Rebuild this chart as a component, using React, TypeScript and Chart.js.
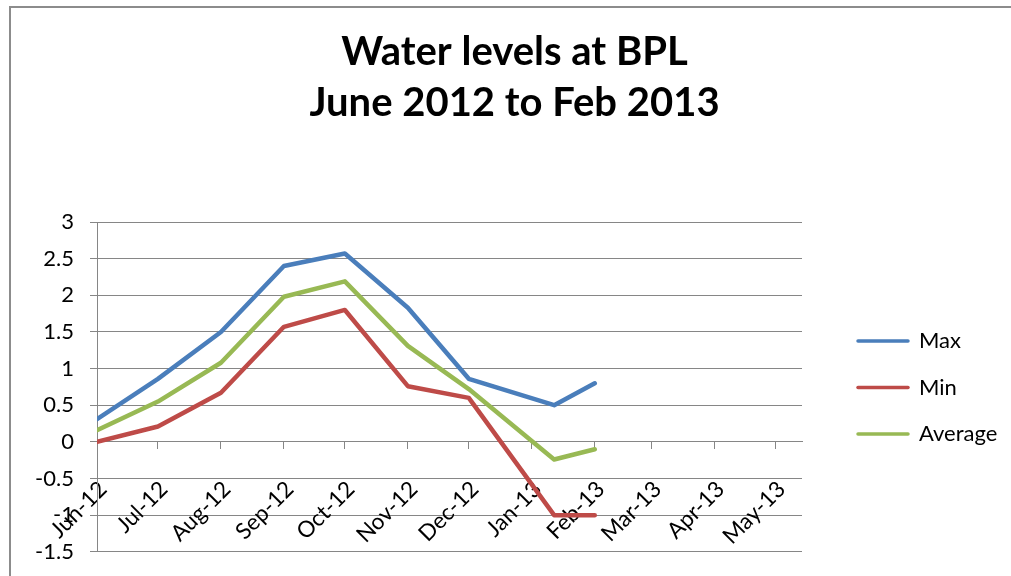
import React, { useEffect, useRef } from "react";
import { Chart, registerables } from "chart.js";

Chart.register(...registerables);

// ---- data ----
const pointDates = [
  "2012-06-01", "2012-07-01", "2012-08-01", "2012-09-01", "2012-10-01",
  "2012-11-01", "2012-12-01", "2013-01-12", "2013-02-01",
];
const maxValues = [0.31, 0.86, 1.5, 2.4, 2.57, 1.83, 0.86, 0.5, 0.8];
const minValues = [0.0, 0.21, 0.67, 1.57, 1.8, 0.76, 0.6, -1.0, -1.0];
const avgValues = [0.16, 0.55, 1.08, 1.98, 2.19, 1.31, 0.72, -0.24, -0.1];

const monthTickDates = [
  "2012-06-01", "2012-07-01", "2012-08-01", "2012-09-01", "2012-10-01", "2012-11-01",
  "2012-12-01", "2013-01-01", "2013-02-01", "2013-03-01", "2013-04-01", "2013-05-01",
];
const monthLabels = [
  "Jun-12", "Jul-12", "Aug-12", "Sep-12", "Oct-12", "Nov-12",
  "Dec-12", "Jan-13", "Feb-13", "Mar-13", "Apr-13", "May-13",
];
const axisStartDate = "2012-06-01";
const axisEndDate = "2013-05-14";

const yTickValues = [-1.5, -1, -0.5, 0, 0.5, 1, 1.5, 2, 2.5, 3];
const yTickLabels = ["-1.5", "-1", "-0.5", "0", "0.5", "1", "1.5", "2", "2.5", "3"];

const titleLines = ["Water levels at BPL", "June 2012 to Feb 2013"];
const seriesNames = ["Max", "Min", "Average"];
const seriesColors = ["#4A7EBB", "#BE4B48", "#98B954"];

const dayOf = (s: string) => (Date.parse(s) - Date.parse(axisStartDate)) / 86400000;

const FONT = "Lato, 'Open Sans', sans-serif";
const GRID = "#868686";
const CANVAS_W = 1029;
const CANVAS_H = 581;
const LEGEND_W = 227;

export default function App() {
  const ref = useRef<HTMLCanvasElement | null>(null);

  useEffect(() => {
    if (!ref.current) return;
    const series = [maxValues, minValues, avgValues];

    const borderPlugin = {
      id: "outerBorder",
      beforeDraw(chart: any) {
        const ctx = chart.ctx;
        ctx.save();
        ctx.fillStyle = "#ffffff";
        ctx.fillRect(0, 0, chart.width, chart.height);
        ctx.strokeStyle = "#8c8c8c";
        ctx.lineWidth = 2;
        ctx.strokeRect(10, 7, chart.width + 20, chart.height + 20);
        ctx.restore();
      },
    };

    const legendPlace = {
      id: "legendPlace",
      beforeLayout(chart: any) {
        const lg = chart.legend;
        if (lg && !lg.__patched) {
          const f = lg.fit;
          lg.fit = function (this: any) {
            f.call(this);
            this.width = LEGEND_W;
          };
          lg.__patched = true;
        }
      },
      afterLayout(chart: any) {
        const lg = chart.legend;
        if (lg) {
          lg.left += 31.5;
          lg.right += 31.5;
          lg.top += 97;
          lg.bottom += 97;
        }
      },
    };

    const chart = new Chart(ref.current, {
      type: "line",
      data: {
        datasets: series.map((vals, i) => ({
          label: seriesNames[i],
          data: vals.map((v, j) => ({ x: dayOf(pointDates[j]), y: v })),
          borderColor: seriesColors[i],
          backgroundColor: seriesColors[i],
          borderWidth: 4.5,
          borderCapStyle: "round" as const,
          borderJoinStyle: "round" as const,
          pointRadius: 0,
          pointHoverRadius: 0,
          tension: 0,
          fill: false,
        })),
      },
      options: {
        responsive: false,
        animation: false,
        layout: { padding: { left: 0, right: 0, top: 0, bottom: 0 } },
        scales: {
          x: {
            type: "linear",
            position: { y: 0 } as any,
            min: 0,
            max: dayOf(axisEndDate),
            afterBuildTicks: (scale: any) => {
              scale.ticks = monthTickDates.map((d) => ({ value: dayOf(d) }));
            },
            ticks: {
              autoSkip: false,
              minRotation: 45,
              maxRotation: 45,
              padding: 27,
              labelOffset: 6,
              color: "#000",
              font: { family: FONT, size: 22.5 },
              callback: (_v: any, i: number) => monthLabels[i],
            },
            grid: { drawOnChartArea: false, drawTicks: true, tickLength: 7, color: GRID, lineWidth: 1 },
            border: { display: true, color: GRID, width: 1 },
          },
          y: {
            min: -1.5,
            max: 3,
            afterBuildTicks: (scale: any) => {
              scale.ticks = yTickValues.map((v) => ({ value: v }));
            },
            afterFit: (scale: any) => {
              scale.width = 97;
            },
            ticks: {
              padding: 16,
              color: "#000",
              font: { family: FONT, size: 22 },
              callback: (_v: any, i: number) => yTickLabels[i],
            },
            grid: { color: GRID, tickLength: 7, lineWidth: 1 },
            border: { display: true, color: GRID, width: 1 },
          },
        },
        plugins: {
          title: {
            display: true,
            text: titleLines,
            color: "#000",
            font: { family: FONT, size: 40, weight: "bold", lineHeight: 51 / 40 },
            padding: { top: 26.5, bottom: 93.5 },
          },
          legend: {
            position: "right",
            labels: {
              usePointStyle: true,
              pointStyle: "line",
              pointStyleWidth: 50,
              padding: 24.5,
              color: "#000",
              font: { family: FONT, size: 22 },
              generateLabels: (c: any) =>
                (Chart.defaults.plugins.legend.labels.generateLabels as any)(c).map((l: any) => ({
                  ...l,
                  lineWidth: 3.5,
                  lineCap: "round",
                })),
            },
          },
          tooltip: { enabled: false },
        },
      },
      plugins: [borderPlugin, legendPlace],
    });
    return () => chart.destroy();
  }, []);

  return (
    <div style={{ position: "fixed", left: 0, top: 0, width: 1011, height: 576, overflow: "hidden", background: "#fff" }}>
      <canvas ref={ref} width={CANVAS_W} height={CANVAS_H} style={{ position: "absolute", left: 0, top: 0 }} />
    </div>
  );
}
